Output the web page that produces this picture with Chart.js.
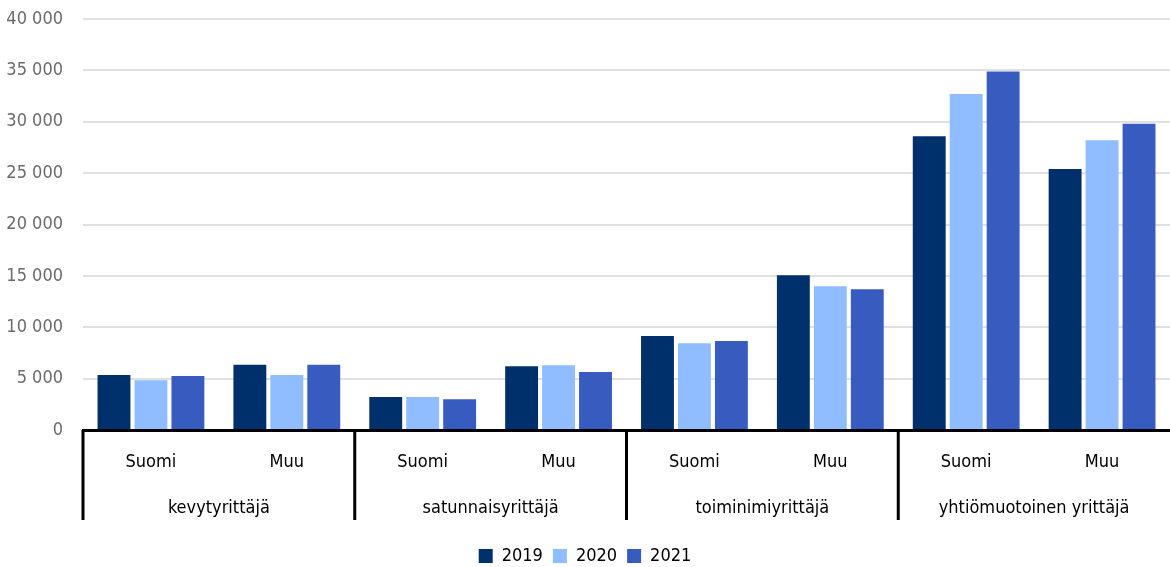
<!DOCTYPE html>
<html lang="fi">
<head>
  <meta charset="UTF-8">
  <title>Yrittäjät</title>
  <script src="https://cdn.jsdelivr.net/npm/chart.js"></script>
  <style>
    body { margin: 0; background: #fff; }
    #wrap { width: 1170px; height: 567px; position: relative; }
  </style>
</head>
<body>
<div id="wrap"><canvas id="chart"></canvas></div>
<script>
const origins = ["Suomi", "Muu", "Suomi", "Muu", "Suomi", "Muu", "Suomi", "Muu"];
const groups = ["kevytyrittäjä", "satunnaisyrittäjä", "toiminimiyrittäjä", "yhtiömuotoinen yrittäjä"];
const years = ["2019", "2020", "2021"];
const values2019 = [5350, 6350, 3200, 6200, 9150, 15050, 28600, 25400];
const values2020 = [4850, 5350, 3200, 6300, 8450, 14000, 32700, 28200];
const values2021 = [5250, 6350, 3000, 5650, 8650, 13700, 34900, 29800];
const colors = ["#00306b", "#8fbdff", "#385bbf"];

const FONT = "'DejaVu Sans Condensed', 'DejaVu Sans', sans-serif";

// thousands with a space, like "35 000"
function fmt(v) {
  return String(v).replace(/\B(?=(\d{3})+(?!\d))/g, " ");
}

// black separators between the groups under the axis
const groupLines = {
  id: "groupLines",
  afterDraw(chart) {
    const s = chart.scales.x2;
    const top = chart.chartArea.bottom;
    const bottom = s.top + 45;
    const w = (s.right - s.left) / groups.length;
    const ctx = chart.ctx;
    ctx.save();
    ctx.strokeStyle = "#000";
    ctx.lineWidth = 3;
    for (let i = 0; i < groups.length; i++) {
      const x = s.left + i * w;
      ctx.beginPath();
      ctx.moveTo(x, top);
      ctx.lineTo(x, bottom);
      ctx.stroke();
    }
    ctx.restore();
  }
};

const data = [values2019, values2020, values2021];

new Chart(document.getElementById("chart"), {
  type: "bar",
  data: {
    labels: origins,
    datasets: years.map((y, i) => ({
      label: y,
      data: data[i],
      backgroundColor: colors[i],
      categoryPercentage: 0.816,
      barPercentage: 0.89
    }))
  },
  options: {
    responsive: true,
    maintainAspectRatio: false,
    animation: false,
    layout: { padding: { top: 19, right: 0, left: 0, bottom: -8 } },
    plugins: {
      tooltip: { enabled: false },
      legend: {
        position: "bottom",
        labels: {
          boxWidth: 14,
          boxHeight: 14,
          padding: 10,
          color: "#000",
          font: { family: FONT, size: 18 }
        }
      }
    },
    scales: {
      y: {
        min: 0,
        max: 40000,
        afterFit: s => { s.width = 83; s.paddingTop = 0; s.paddingBottom = 0; },
        ticks: {
          stepSize: 5000,
          padding: 20,
          color: "#6b6b6b",
          font: { family: FONT, size: 18 },
          callback: v => fmt(v)
        },
        grid: { color: "#e0e0e0", lineWidth: 2, drawTicks: false },
        border: { display: false }
      },
      x: {
        afterFit: s => { s.height = 45; },
        ticks: {
          padding: 22,
          color: "#000",
          font: { family: FONT, size: 18 }
        },
        grid: { display: false, drawTicks: false },
        border: { display: true, color: "#000", width: 3 }
      },
      x2: {
        type: "category",
        position: "bottom",
        labels: groups,
        offset: true,
        afterFit: s => { s.height = 62; },
        ticks: {
          padding: 23,
          color: "#000",
          font: { family: FONT, size: 18 }
        },
        grid: { display: false, drawTicks: false },
        border: { display: false }
      }
    }
  },
  plugins: [groupLines]
});
</script>
</body>
</html>
